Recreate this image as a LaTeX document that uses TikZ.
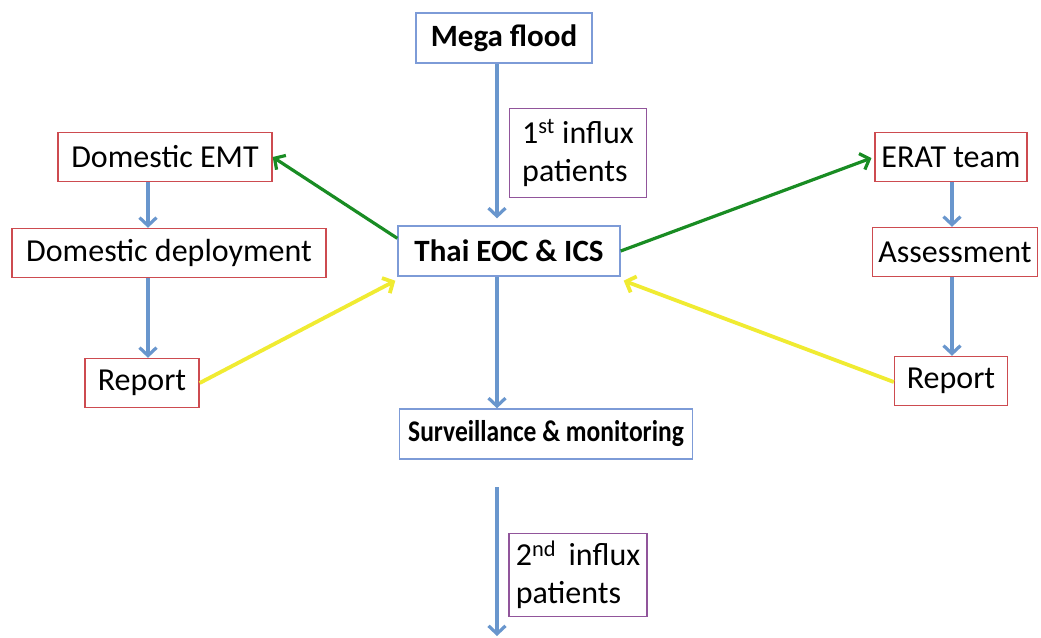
\documentclass[tikz,border=0pt]{standalone}
\usepackage{fontspec}
\usepackage{graphicx}
\setmainfont{Carlito}
\usetikzlibrary{arrows.meta}
\definecolor{boxblue}{RGB}{125,155,215}
\definecolor{boxred}{RGB}{205,75,80}
\definecolor{boxpurple}{RGB}{145,85,155}
\definecolor{flowblue}{RGB}{105,150,205}
\definecolor{flowgreen}{RGB}{25,140,35}
\definecolor{flowyellow}{RGB}{240,235,50}
\begin{document}
\begin{tikzpicture}
[x=1pt,y=-1pt,
  mainbox/.style={draw=boxblue,line width=1.4pt,inner sep=0pt,minimum height=50,%
    font=\fontsize{31}{36}\selectfont\bfseries},%
  stepbox/.style={draw=boxred,line width=1.4pt,inner sep=0pt,minimum height=49,%
    font=\fontsize{32}{36}\selectfont},%
  notebox/.style={draw=boxpurple,line width=1.4pt,inner sep=0pt,align=left,%
    font=\fontsize{32}{38}\selectfont},%
  flowline/.style={line width=3.2pt,-{Straight Barb[length=8pt,width=17pt]}},%
  bluelink/.style={flowline,flowblue},%
  greenlink/.style={flowline,flowgreen},%
  yellowlink/.style={flowline,flowyellow,line width=3.8pt}]
\useasboundingbox (0,0) rectangle (1041,637);
%% main column
\node (flood) at (504,38) [mainbox,minimum width=176] {Mega flood};
\node (eoc) at (509,251) [mainbox,minimum width=222] {Thai EOC \& ICS};
\node (watch) at (546,434) [mainbox,minimum width=293,font=\fontsize{30}{34}\selectfont\bfseries] {\scalebox{0.85}[1]{Surveillance \& monitoring}};
\node (firstwave) at (578,153) [notebox,minimum width=137,minimum height=89] {1\textsuperscript{st} influx\\patients};
\node (secondwave) at (578,575) [notebox,minimum width=138,minimum height=83] {2\textsuperscript{nd}\, influx\\patients};
%% side columns
\foreach \nodename/\x/\y/\w/\label in {emt/165/157/214/Domestic EMT,
    deploy/169/253/314/Domestic deployment, leftreport/142/383/114/Report,
    erat/951/157/152/ERAT team, assess/955/252/165/Assessment,
    rightreport/951/381/113/Report} {
  \node (\nodename) at (\x,\y) [stepbox,minimum width=\w] {\label};
}
\coordinate (midaxis) at (497,0);
\coordinate (leftaxis) at (148,0);
\coordinate (rightaxis) at (952,0);
\coordinate (outtop) at (497,487);
\coordinate (outend) at (497,636);
%% connectors
\draw[bluelink,shorten >=7pt] (flood.south -| midaxis) -- (eoc.north -| midaxis);
\draw[bluelink] (eoc.south -| midaxis) -- (watch.north -| midaxis);
\draw[bluelink] (outtop) -- (outend);
\draw[bluelink] (emt.south -| leftaxis) -- (deploy.north -| leftaxis);
\draw[bluelink] (deploy.south -| leftaxis) -- (leftreport.north -| leftaxis);
\draw[bluelink] (erat.south -| rightaxis) -- (assess.north -| rightaxis);
\draw[bluelink] (assess.south -| rightaxis) -- (rightreport.north -| rightaxis);
\draw[greenlink] ([yshift=-13]eoc.north west) -- (emt.east);
\draw[greenlink,shorten >=3pt] (eoc.east) -- (erat.west);
\draw[yellowlink] (leftreport.east) -- ([shift={(-2,4)}]eoc.south west);
\draw[yellowlink] ([yshift=-1]rightreport.west) -- ([shift={(3,4)}]eoc.south east);
\end{tikzpicture}
\end{document}
